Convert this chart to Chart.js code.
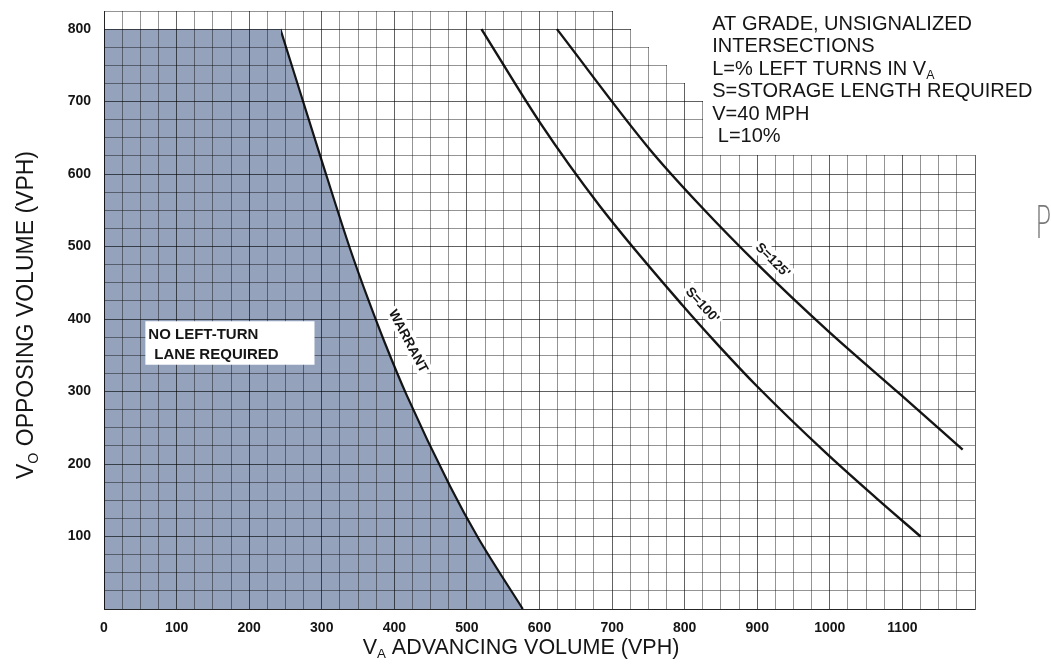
<!DOCTYPE html>
<html>
<head>
<meta charset="utf-8">
<script src="https://cdn.jsdelivr.net/npm/chart.js@4.4.1/dist/chart.umd.min.js"></script>
<style>
  html, body { margin: 0; padding: 0; background: #fff; }
  #wrap { width: 1051px; height: 664px; }
</style>
</head>
<body>
<div id="wrap"><canvas id="chart" width="1051" height="664"></canvas></div>
<script>
// ===============================
// Data
// ===============================
// warrant curve (V_A, V_O)
const warrantX = [243, 297, 339, 364, 387, 417, 477, 515, 577];
const warrantY = [800, 628, 497, 427, 367, 295, 169, 99, 0];

// flat top of the "no left-turn lane" zone
const shadeTopX = [0, 244];
const shadeTopY = [800, 800];

// storage length curves
const s100X = [520, 600, 683, 797, 848, 899, 995, 1064, 1125];
const s100Y = [800, 672, 556, 419, 362, 308, 215, 153, 100];
const s125X = [624, 752, 821, 903, 997, 1096, 1183];
const s125Y = [800, 634, 557, 473, 384, 297, 220];

// tick labels
const xLabels = [0, 100, 200, 300, 400, 500, 600, 700, 800, 900, 1000, 1100];
const yLabels = [100, 200, 300, 400, 500, 600, 700, 800];

// stepped top edge of the grid paper (x breaks, top value per step)
const gridStepX = [700, 725, 750, 775, 800, 825, 1200];
const gridStepTop = [800, 775, 750, 725, 700, 625];

// note block, top right
const noteLines = [
  [{ t: "AT GRADE, UNSIGNALIZED" }],
  [{ t: "INTERSECTIONS" }],
  [{ t: "L=% LEFT TURNS IN V" }, { t: "A", sub: true }],
  [{ t: "S=STORAGE LENGTH REQUIRED" }],
  [{ t: "V=40 MPH" }],
  [{ t: " L=10%" }]
];

// ===============================
// Styling helpers
// ===============================
const FONT = '"Liberation Sans", Arial, Helvetica, sans-serif';
const SHADE = "#94a2bc";
const INK = "#151515";

const toPts = (xs, ys) => xs.map((x, i) => ({ x: x, y: ys[i] }));

function drawRich(ctx, parts, x, y, size, weight) {
  parts.forEach(p => {
    const s = p.sub ? size * 0.62 : size;
    ctx.font = weight + " " + s + "px " + FONT;
    ctx.fillText(p.t, x, p.sub ? y + size * 0.2 : y);
    x += ctx.measureText(p.t).width;
  });
}

function richWidth(ctx, parts, size, weight) {
  let w = 0;
  parts.forEach(p => {
    const s = p.sub ? size * 0.62 : size;
    ctx.font = weight + " " + s + "px " + FONT;
    w += ctx.measureText(p.t).width;
  });
  return w;
}

// rotated label with a white knock-out behind it
function curveLabel(ctx, text, px, py, deg, size) {
  ctx.save();
  ctx.translate(px, py);
  ctx.rotate(deg * Math.PI / 180);
  ctx.font = "bold " + size + "px " + FONT;
  const w = ctx.measureText(text).width;
  ctx.fillStyle = "#fff";
  ctx.fillRect(-w / 2 - 3, -size * 0.6, w + 6, size * 1.2);
  ctx.fillStyle = INK;
  ctx.textAlign = "center";
  ctx.textBaseline = "middle";
  ctx.fillText(text, 0, 1);
  ctx.restore();
}

// pixel column/row a 1px grid line sits on
const linePix = p => Math.round(p - 0.5);

// ===============================
// Paper plugin: background, stepped grid edge, texts
// ===============================
const paperPlugin = {
  id: "paper",
  beforeDraw(chart) {
    const ctx = chart.ctx;
    ctx.save();
    ctx.fillStyle = "#fff";
    ctx.fillRect(0, 0, chart.width, chart.height);
    ctx.restore();
  },
  afterDraw(chart) {
    const ctx = chart.ctx;
    const xs = chart.scales.x, ys = chart.scales.y;
    const area = chart.chartArea;
    ctx.save();

    // cut the grid paper into its staircase at the top right
    ctx.fillStyle = "#fff";
    const top = Math.floor(area.top) - 3;
    for (let i = 0; i < gridStepTop.length; i++) {
      const x0 = linePix(xs.getPixelForValue(gridStepX[i])) + 1;
      const x1 = i === gridStepTop.length - 1 ? chart.width : linePix(xs.getPixelForValue(gridStepX[i + 1])) + 1;
      const yb = linePix(ys.getPixelForValue(gridStepTop[i]));
      ctx.fillRect(x0, top, x1 - x0, yb - top);
    }

    // note block
    ctx.fillStyle = INK;
    ctx.textBaseline = "alphabetic";
    ctx.textAlign = "left";
    const nx = xs.getPixelForValue(838);
    noteLines.forEach((parts, i) => {
      drawRich(ctx, parts, nx, 30 + i * 22.4, 20, "normal");
    });

    // "no left-turn lane" box
    const bx0 = xs.getPixelForValue(57), bx1 = xs.getPixelForValue(290);
    const by0 = ys.getPixelForValue(397), by1 = ys.getPixelForValue(337);
    ctx.fillStyle = "#fff";
    ctx.fillRect(bx0, by0, bx1 - bx0, by1 - by0);
    ctx.fillStyle = INK;
    ctx.font = "bold 15px " + FONT;
    ctx.fillText("NO LEFT-TURN", bx0 + 3, by0 + 18);
    ctx.fillText("LANE REQUIRED", bx0 + 9, by0 + 38);

    // curve labels
    curveLabel(ctx, "WARRANT", xs.getPixelForValue(420), ys.getPixelForValue(370), 62, 13.5);
    curveLabel(ctx, "S=100'", xs.getPixelForValue(825), ys.getPixelForValue(420), 48, 13.5);
    curveLabel(ctx, "S=125'", xs.getPixelForValue(922), ys.getPixelForValue(482), 45, 13.5);

    // axis titles with subscripts
    ctx.fillStyle = INK;
    const xt = [{ t: "V" }, { t: "A", sub: true }, { t: " ADVANCING VOLUME (VPH)" }];
    const xw = richWidth(ctx, xt, 21.5, "normal");
    drawRich(ctx, xt, 521 - xw / 2, 654, 21.5, "normal");

    const yt = [{ t: "V" }, { t: "O", sub: true }, { t: " OPPOSING VOLUME (VPH)" }];
    const yw = richWidth(ctx, yt, 23, "normal");
    ctx.save();
    ctx.translate(33, 315);
    ctx.rotate(-Math.PI / 2);
    drawRich(ctx, yt, -yw / 2, 0, 23, "normal");
    ctx.restore();

    // pencil mark in the margin
    ctx.save();
    ctx.translate(1035, 238);
    ctx.scale(0.62, 1);
    ctx.fillStyle = "#7a7a7a";
    ctx.font = '200 44px "DejaVu Sans", sans-serif';
    ctx.fillText("P", 0, 0);
    ctx.restore();

    ctx.restore();
  }
};

// ===============================
// Chart
// ===============================
const gridColor = c => (c.tick && c.tick.value % 100 === 0) ? "rgba(0,0,0,0.62)" : "rgba(0,0,0,0.42)";
const tickFont = { family: FONT, size: 14, weight: "bold" };

new Chart(document.getElementById("chart"), {
  type: "line",
  data: {
    datasets: [
      { data: toPts(shadeTopX, shadeTopY), fill: "origin", backgroundColor: SHADE, borderWidth: 0, pointRadius: 0 },
      { data: toPts(warrantX, warrantY), fill: "origin", backgroundColor: SHADE, borderColor: INK, borderWidth: 2.2, pointRadius: 0, cubicInterpolationMode: "monotone" },
      { data: toPts(s100X, s100Y), fill: false, borderColor: INK, borderWidth: 2.4, pointRadius: 0, cubicInterpolationMode: "monotone" },
      { data: toPts(s125X, s125Y), fill: false, borderColor: INK, borderWidth: 2.4, pointRadius: 0, cubicInterpolationMode: "monotone" }
    ]
  },
  options: {
    responsive: false,
    animation: false,
    devicePixelRatio: 1,
    layout: { padding: { top: 11, right: 76, left: 0, bottom: 0 } },
    plugins: { legend: { display: false }, tooltip: { enabled: false } },
    scales: {
      x: {
        type: "linear", min: 0, max: 1200,
        afterFit: s => { s.height = 55; s.paddingLeft = 0; s.paddingRight = 0; },
        ticks: {
          stepSize: 25, autoSkip: false, maxRotation: 0, padding: 11, color: INK, font: tickFont,
          callback: v => xLabels.includes(v) ? String(v) : ""
        },
        grid: { drawTicks: false, color: gridColor, lineWidth: 1, z: 1 },
        border: { color: "rgba(0,0,0,0.62)", width: 1, z: 1 }
      },
      y: {
        type: "linear", min: 0, max: 825,
        afterFit: s => { s.width = 104; s.paddingTop = 0; s.paddingBottom = 0; },
        ticks: {
          stepSize: 25, autoSkip: false, padding: 13, color: INK, font: tickFont,
          callback: v => yLabels.includes(v) ? String(v) : ""
        },
        grid: { drawTicks: false, color: gridColor, lineWidth: 1, z: 1 },
        border: { color: "rgba(0,0,0,0.62)", width: 1, z: 1 }
      }
    }
  },
  plugins: [paperPlugin]
});
</script>
</body>
</html>
